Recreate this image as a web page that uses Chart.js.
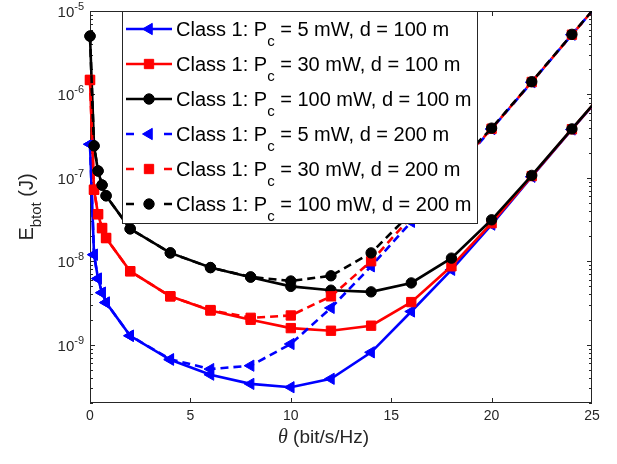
<!DOCTYPE html>
<html><head><meta charset="utf-8">
<script src="https://cdn.jsdelivr.net/npm/chart.js@4/dist/chart.umd.min.js"></script>
<style>html,body{margin:0;padding:0;background:#fff;}canvas{display:block;}</style>
</head><body>
<canvas id="c" width="617" height="464"></canvas>
<script>
// ---- data ----
const thetaValues = [0, 0.2, 0.4, 0.6, 0.8, 2, 4, 6, 8, 10, 12, 14, 16, 18, 20, 22, 24, 26];

const E_5mW_100m   = [2.53e-7, 1.2e-8, 6.2e-9, 4.2e-9, 3.2e-9, 1.28e-9, 6.6e-10, 4.37e-10, 3.39e-10, 3.09e-10, 3.9e-10, 8.1e-10, 2.5e-9, 7.9e-9, 2.75e-8, 1.03e-7, 3.8e-7, 1.36e-6];
const E_30mW_100m  = [1.49e-6, 7.2e-8, 3.67e-8, 2.5e-8, 1.9e-8, 7.6e-9, 3.8e-9, 2.57e-9, 1.99e-9, 1.58e-9, 1.47e-9, 1.69e-9, 3.24e-9, 8.7e-9, 2.86e-8, 1.05e-7, 3.83e-7, 1.37e-6];
const E_100mW_100m = [5.0e-6, 2.42e-7, 1.21e-7, 8.2e-8, 6.1e-8, 2.45e-8, 1.26e-8, 8.4e-9, 6.45e-9, 5.0e-9, 4.5e-9, 4.3e-9, 5.5e-9, 1.09e-8, 3.14e-8, 1.07e-7, 3.86e-7, 1.38e-6];
const E_5mW_200m   = [2.53e-7, 1.2e-8, 6.2e-9, 4.2e-9, 3.2e-9, 1.28e-9, 6.7e-10, 5.1e-10, 5.6e-10, 1.02e-9, 2.76e-9, 8.7e-9, 2.97e-8, 1.1e-7, 3.85e-7, 1.40e-6, 5.2e-6, 1.9e-5];
const E_30mW_200m  = [1.49e-6, 7.2e-8, 3.67e-8, 2.5e-8, 1.9e-8, 7.6e-9, 3.8e-9, 2.6e-9, 2.1e-9, 2.24e-9, 3.8e-9, 1.0e-8, 3.41e-8, 1.17e-7, 3.88e-7, 1.41e-6, 5.2e-6, 1.9e-5];
const E_100mW_200m = [5.0e-6, 2.42e-7, 1.21e-7, 8.2e-8, 6.1e-8, 2.45e-8, 1.26e-8, 8.4e-9, 6.5e-9, 5.8e-9, 6.7e-9, 1.26e-8, 3.8e-8, 1.25e-7, 3.94e-7, 1.42e-6, 5.25e-6, 1.9e-5];

const xTickValues = [0, 5, 10, 15, 20, 25];
const yTickExponents = [-5, -6, -7, -8, -9];
const legendPrefix = 'Class 1: P';
const legendSub = 'c';
const legendSuffixes = [' = 5 mW, d = 100 m', ' = 30 mW, d = 100 m', ' = 100 mW, d = 100 m',
                        ' = 5 mW, d = 200 m', ' = 30 mW, d = 200 m', ' = 100 mW, d = 200 m'];
const xMin = 0, xMax = 25, yMin = 2e-10, yMax = 1e-5;

// ---- styles ----
const seriesValues = [E_5mW_100m, E_30mW_100m, E_100mW_100m, E_5mW_200m, E_30mW_200m, E_100mW_200m];
const colors = ['#0000ff', '#ff0000', '#000000', '#0000ff', '#ff0000', '#000000'];
const marker = [
  {pointStyle: 'triangle', radius: 6.5, rotation: -90},
  {pointStyle: 'rect', radius: 6.6, rotation: 0},
  {pointStyle: 'circle', radius: 5.2, rotation: 0}
];
const AX = '#262626';
const SANS = '"Liberation Sans", Arial, sans-serif';

const datasets = seriesValues.map((vals, i) => {
  const m = marker[i % 3];
  return {
    label: legendPrefix + legendSub + legendSuffixes[i],
    data: thetaValues.map((t, k) => ({x: t, y: vals[k]})),
    borderColor: colors[i],
    backgroundColor: colors[i],
    borderWidth: 2.6,
    borderDash: i >= 3 ? [8, 5] : [],
    pointStyle: m.pointStyle,
    pointRadius: m.radius,
    pointRotation: m.rotation,
    pointBorderWidth: 1,
    pointBackgroundColor: colors[i],
    pointBorderColor: colors[i],
    tension: 0,
    order: 6 - i,
    clip: {left: 10, top: 0, right: 0, bottom: 0}
  };
});

function drawSubText(ctx, x, y, parts) {
  let cx = x;
  for (const p of parts) {
    ctx.font = p.font;
    ctx.fillText(p.t, cx, y + (p.dy || 0));
    cx += ctx.measureText(p.t).width;
  }
  return cx;
}
function measureParts(ctx, parts) {
  let w = 0;
  for (const p of parts) { ctx.font = p.font; w += ctx.measureText(p.t).width; }
  return w;
}

const axesPlugin = {
  id: 'matlabAxes',
  beforeDatasetsDraw(chart) {
    const {ctx, chartArea: a, scales: {x, y}} = chart;
    ctx.save();
    ctx.strokeStyle = AX;
    ctx.lineWidth = 1;
    ctx.strokeRect(a.left + 0.5, a.top + 0.5, a.right - a.left - 1, a.bottom - a.top - 1);
    ctx.beginPath();
    for (const v of xTickValues) {
      const px = Math.round(x.getPixelForValue(v)) + (v === xMax ? -0.5 : 0.5);
      ctx.moveTo(px, a.bottom); ctx.lineTo(px, a.bottom - 5);
      ctx.moveTo(px, a.top); ctx.lineTo(px, a.top + 5);
    }
    for (let e = -10; e <= -5; e++) {
      for (let m = 1; m <= 9; m++) {
        const v = m * Math.pow(10, e);
        if (v < yMin * 0.999 || v > yMax * 1.001) continue;
        const py = Math.round(y.getPixelForValue(v)) + 0.5;
        const len = m === 1 ? 5 : 3;
        ctx.moveTo(a.left, py); ctx.lineTo(a.left + len, py);
        ctx.moveTo(a.right, py); ctx.lineTo(a.right - len, py);
      }
    }
    ctx.stroke();

    // tick labels
    ctx.fillStyle = AX;
    ctx.textBaseline = 'alphabetic';
    ctx.font = '14px ' + SANS;
    ctx.textAlign = 'center';
    for (const v of xTickValues) {
      ctx.fillText(String(v), x.getPixelForValue(v), 420);
    }
    ctx.textAlign = 'left';
    for (const e of yTickExponents) {
      const py = y.getPixelForValue(Math.pow(10, e));
      const parts = [{t: '10', font: '15px ' + SANS, dy: 6}, {t: String(e), font: '11px ' + SANS, dy: -1}];
      const w = measureParts(ctx, parts);
      drawSubText(ctx, 84 - w, py, parts);
    }

    // axis titles
    const xparts = [{t: '\u03B8', font: 'italic 20px "Liberation Serif", serif', dy: 0},
                    {t: ' (bit/s/Hz)', font: '19px ' + SANS, dy: 0}];
    const xw = measureParts(ctx, xparts);
    drawSubText(ctx, 323.5 - xw / 2, 443, xparts);

    ctx.save();
    ctx.translate(33, (a.top + a.bottom) / 2);
    ctx.rotate(-Math.PI / 2);
    const yparts = [{t: 'E', font: '20px ' + SANS, dy: 0},
                    {t: 'btot', font: '15px ' + SANS, dy: 8},
                    {t: ' (J)', font: '20px ' + SANS, dy: 0}];
    const yw = measureParts(ctx, yparts);
    drawSubText(ctx, -yw / 2, 0, yparts);
    ctx.restore();
    ctx.restore();
  },
  afterDatasetsDraw(chart) {
    const {ctx} = chart;
    ctx.save();
    const L = 122, T = 11, R = 478, B = 224;
    ctx.fillStyle = '#ffffff';
    ctx.fillRect(L, T, R - L, B - T);
    ctx.strokeStyle = AX;
    ctx.lineWidth = 1;
    ctx.strokeRect(L + 0.5, T + 0.5, R - L - 1, B - T - 1);
    for (let i = 0; i < datasets.length; i++) {
      const cy = 29 + i * 35;
      const ds = datasets[i];
      ctx.strokeStyle = ds.borderColor;
      ctx.fillStyle = ds.borderColor;
      ctx.lineWidth = 2.6;
      ctx.setLineDash([]);
      ctx.beginPath();
      if (i < 3) {
        ctx.moveTo(126, cy); ctx.lineTo(172, cy);
      } else {
        ctx.moveTo(126, cy); ctx.lineTo(134, cy);
        ctx.moveTo(164, cy); ctx.lineTo(172, cy);
      }
      ctx.stroke();
      ctx.lineWidth = 1;
      Chart.helpers.drawPoint(ctx, {pointStyle: ds.pointStyle, radius: ds.pointRadius,
        rotation: ds.pointRotation, borderWidth: 1}, 149, cy);
      ctx.fillStyle = '#000000';
      ctx.textAlign = 'left';
      ctx.textBaseline = 'alphabetic';
      drawSubText(ctx, 176, cy + 6.5, [
        {t: legendPrefix, font: '20px ' + SANS, dy: 0},
        {t: legendSub, font: '15px ' + SANS, dy: 10},
        {t: legendSuffixes[i], font: '20px ' + SANS, dy: 0}
      ]);
    }
    ctx.restore();
  }
};

new Chart(document.getElementById('c'), {
  type: 'line',
  data: {datasets},
  options: {
    responsive: false,
    animation: false,
    devicePixelRatio: 1,
    layout: {padding: {left: 90, top: 11, right: 25, bottom: 61}},
    plugins: {legend: {display: false}, tooltip: {enabled: false}},
    scales: {
      x: {type: 'linear', min: xMin, max: xMax, display: false},
      y: {type: 'logarithmic', min: yMin, max: yMax, display: false}
    }
  },
  plugins: [axesPlugin]
});
</script>
</body></html>
